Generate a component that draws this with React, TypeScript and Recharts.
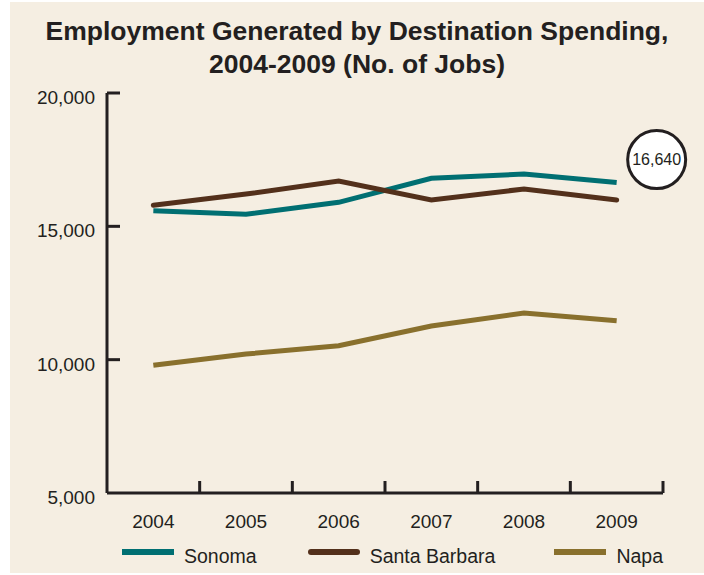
import { ComposedChart, Line, XAxis, YAxis, Legend } from 'recharts';

const years = ['2004', '2005', '2006', '2007', '2008', '2009'];
const sonoma = [15580, 15450, 15900, 16800, 16960, 16640];
const santaBarbara = [15790, 16210, 16700, 15990, 16400, 15990];
const napa = [9790, 10210, 10520, 11260, 11750, 11460];
const yTicks = [5000, 10000, 15000, 20000];

const SERIES = [
  { key: 'sonoma', name: 'Sonoma', color: '#006f72', gap: 0 },
  { key: 'santaBarbara', name: 'Santa Barbara', color: '#53301b', gap: 51 },
  { key: 'napa', name: 'Napa', color: '#89702d', gap: 59 },
];

const data = years.map((year, i) => ({
  year,
  sonoma: sonoma[i],
  santaBarbara: santaBarbara[i],
  napa: napa[i],
}));

const INK = '#231f20';
const FONT = '"Liberation Sans", Arial, sans-serif';

const XTick = (props: any) => {
  const { x, y, payload, width } = props;
  const half = width / years.length / 2;
  return (
    <g>
      <line x1={x + half} y1={y} x2={x + half} y2={y - 12} stroke={INK} strokeWidth={3} />
      <text x={x} y={y + 35} textAnchor="middle" fill={INK}
        style={{ fontSize: 19, fontFamily: FONT }}>
        {payload.value}
      </text>
    </g>
  );
};

const YTick = (props: any) => {
  const { x, y, payload } = props;
  return (
    <g>
      {payload.value !== yTicks[0] && (
        <line x1={x} y1={y} x2={x + 13} y2={y} stroke={INK} strokeWidth={3} />
      )}
      <text x={x - 12} y={y + 11} textAnchor="end" fill={INK}
        style={{ fontSize: 19, fontFamily: FONT }}>
        {payload.value.toLocaleString('en-US')}
      </text>
    </g>
  );
};

const Callout = (props: any) => {
  const { x, y, index, value } = props;
  if (index !== years.length - 1) return null;
  const cx = x + 40;
  const cy = y - 23;
  return (
    <g>
      <circle cx={cx} cy={cy} r={29} fill="#ffffff" stroke={INK} strokeWidth={3} />
      <text x={cx} y={cy + 5} textAnchor="middle" fill={INK}
        style={{ fontSize: 16, fontFamily: FONT }}>
        {value.toLocaleString('en-US')}
      </text>
    </g>
  );
};

const LegendContent = () => (
  <div style={{
    display: 'flex', alignItems: 'center', paddingLeft: 95, fontFamily: FONT,
    position: 'relative', top: 5, whiteSpace: 'nowrap', width: 680,
  }}>
    {SERIES.map((s) => (
      <div key={s.key} style={{ display: 'flex', alignItems: 'center', flexShrink: 0, marginLeft: s.gap }}>
        <div style={{ width: 52, height: 6, background: s.color, borderRadius: s.key === 'santaBarbara' ? 3 : 0 }} />
        <span style={{ marginLeft: 10, fontSize: 19.5, color: INK, position: 'relative', top: 5 }}>{s.name}</span>
      </div>
    ))}
  </div>
);

export default function App() {
  return (
    <div style={{ position: 'absolute', left: 10, top: 2, width: 694, height: 571, background: '#f5eee2' }}>
      <div style={{
        position: 'absolute', left: 0, right: 0, top: 13, textAlign: 'center',
        fontFamily: FONT, fontWeight: 700, fontSize: 26.5, lineHeight: '33px', color: INK,
      }}>
        Employment Generated by Destination Spending,<br />2004-2009 (No. of Jobs)
      </div>
      <ComposedChart width={694} height={571} data={data}
        margin={{ top: 91, right: 41, bottom: 4, left: 17 }}>
        <XAxis dataKey="year" scale="band" height={42} interval={0}
          axisLine={{ stroke: INK, strokeWidth: 3 }} tickLine={false}
          tickSize={0} tickMargin={0} tick={<XTick />} />
        <YAxis type="number" domain={[5000, 20000]} ticks={yTicks} width={80}
          axisLine={{ stroke: INK, strokeWidth: 3 }} tickLine={false}
          tickSize={0} tickMargin={0} tick={<YTick />} />
        <Legend verticalAlign="bottom" align="left" height={34} content={<LegendContent />} />
        <Line dataKey="sonoma" name="Sonoma" stroke={SERIES[0].color} strokeWidth={5}
          dot={false} isAnimationActive={false} strokeLinecap="butt" label={<Callout />} />
        <Line dataKey="santaBarbara" name="Santa Barbara" stroke={SERIES[1].color} strokeWidth={5}
          dot={false} isAnimationActive={false} strokeLinecap="round" />
        <Line dataKey="napa" name="Napa" stroke={SERIES[2].color} strokeWidth={5}
          dot={false} isAnimationActive={false} strokeLinecap="butt" />
      </ComposedChart>
    </div>
  );
}
